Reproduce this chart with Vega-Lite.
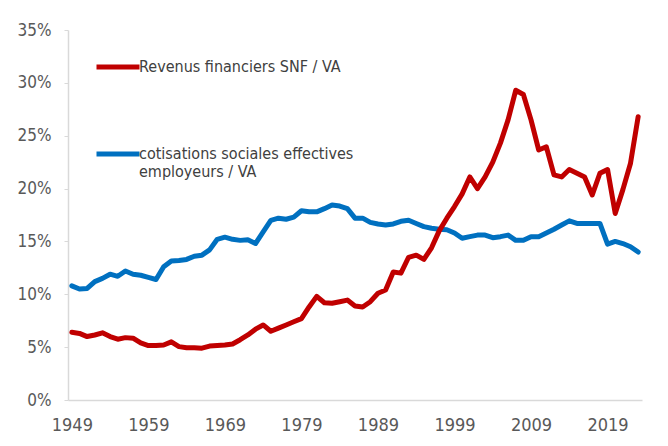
{
  "$schema": "https://vega.github.io/schema/vega-lite/v6.json",
  "width": 574,
  "height": 370,
  "autosize": "none",
  "padding": {"left": 68, "top": 30, "right": 26, "bottom": 46},
  "background": "white",
  "config": {
    "view": {"stroke": null},
    "font": "'Liberation Sans Narrow', 'DejaVu Sans Condensed', 'Liberation Sans', sans-serif"
  },
  "data": {
    "values": [
      {"year": 1949, "rev": 6.4, "cot": 10.8},
      {"year": 1950, "rev": 6.3, "cot": 10.5},
      {"year": 1951, "rev": 6.0, "cot": 10.55},
      {"year": 1952, "rev": 6.15, "cot": 11.2},
      {"year": 1953, "rev": 6.35, "cot": 11.5},
      {"year": 1954, "rev": 6.0, "cot": 11.9},
      {"year": 1955, "rev": 5.75, "cot": 11.7},
      {"year": 1956, "rev": 5.9, "cot": 12.2},
      {"year": 1957, "rev": 5.85, "cot": 11.9},
      {"year": 1958, "rev": 5.4, "cot": 11.8},
      {"year": 1959, "rev": 5.15, "cot": 11.6},
      {"year": 1960, "rev": 5.15, "cot": 11.4},
      {"year": 1961, "rev": 5.2, "cot": 12.6},
      {"year": 1962, "rev": 5.5, "cot": 13.15},
      {"year": 1963, "rev": 5.05, "cot": 13.2},
      {"year": 1964, "rev": 4.95, "cot": 13.3},
      {"year": 1965, "rev": 4.95, "cot": 13.6},
      {"year": 1966, "rev": 4.9, "cot": 13.7},
      {"year": 1967, "rev": 5.1, "cot": 14.2},
      {"year": 1968, "rev": 5.15, "cot": 15.2},
      {"year": 1969, "rev": 5.2, "cot": 15.4},
      {"year": 1970, "rev": 5.3, "cot": 15.2},
      {"year": 1971, "rev": 5.7, "cot": 15.1},
      {"year": 1972, "rev": 6.15, "cot": 15.15},
      {"year": 1973, "rev": 6.7, "cot": 14.8},
      {"year": 1974, "rev": 7.1, "cot": 15.9},
      {"year": 1975, "rev": 6.5, "cot": 17.0},
      {"year": 1976, "rev": 6.8, "cot": 17.2},
      {"year": 1977, "rev": 7.1, "cot": 17.1},
      {"year": 1978, "rev": 7.4, "cot": 17.3},
      {"year": 1979, "rev": 7.7, "cot": 17.9},
      {"year": 1980, "rev": 8.8, "cot": 17.8},
      {"year": 1981, "rev": 9.8, "cot": 17.8},
      {"year": 1982, "rev": 9.2, "cot": 18.1},
      {"year": 1983, "rev": 9.15, "cot": 18.45},
      {"year": 1984, "rev": 9.3, "cot": 18.35},
      {"year": 1985, "rev": 9.45, "cot": 18.1},
      {"year": 1986, "rev": 8.9, "cot": 17.2},
      {"year": 1987, "rev": 8.8, "cot": 17.2},
      {"year": 1988, "rev": 9.3, "cot": 16.8},
      {"year": 1989, "rev": 10.1, "cot": 16.65},
      {"year": 1990, "rev": 10.4, "cot": 16.55},
      {"year": 1991, "rev": 12.1, "cot": 16.65},
      {"year": 1992, "rev": 12.0, "cot": 16.9},
      {"year": 1993, "rev": 13.5, "cot": 17.0},
      {"year": 1994, "rev": 13.7, "cot": 16.7},
      {"year": 1995, "rev": 13.3, "cot": 16.4},
      {"year": 1996, "rev": 14.4, "cot": 16.25},
      {"year": 1997, "rev": 16.0, "cot": 16.15},
      {"year": 1998, "rev": 17.2, "cot": 16.1},
      {"year": 1999, "rev": 18.3, "cot": 15.8},
      {"year": 2000, "rev": 19.5, "cot": 15.3},
      {"year": 2001, "rev": 21.1, "cot": 15.45},
      {"year": 2002, "rev": 20.0, "cot": 15.6},
      {"year": 2003, "rev": 21.1, "cot": 15.6},
      {"year": 2004, "rev": 22.5, "cot": 15.35},
      {"year": 2005, "rev": 24.3, "cot": 15.45},
      {"year": 2006, "rev": 26.5, "cot": 15.6},
      {"year": 2007, "rev": 29.3, "cot": 15.1},
      {"year": 2008, "rev": 28.9, "cot": 15.1},
      {"year": 2009, "rev": 26.5, "cot": 15.45},
      {"year": 2010, "rev": 23.65, "cot": 15.45},
      {"year": 2011, "rev": 23.95, "cot": 15.8},
      {"year": 2012, "rev": 21.3, "cot": 16.15},
      {"year": 2013, "rev": 21.1, "cot": 16.55},
      {"year": 2014, "rev": 21.8, "cot": 16.95},
      {"year": 2015, "rev": 21.45, "cot": 16.7},
      {"year": 2016, "rev": 21.1, "cot": 16.7},
      {"year": 2017, "rev": 19.4, "cot": 16.7},
      {"year": 2018, "rev": 21.45, "cot": 16.7},
      {"year": 2019, "rev": 21.8, "cot": 14.75},
      {"year": 2020, "rev": 17.65, "cot": 15.0},
      {"year": 2021, "rev": 19.9, "cot": 14.8},
      {"year": 2022, "rev": 22.4, "cot": 14.5},
      {"year": 2023, "rev": 26.8, "cot": 14.0}
    ]
  },
  "transform": [{"fold": ["cot", "rev"], "as": ["series", "value"]}],
  "mark": {"type": "line", "strokeWidth": 5, "strokeJoin": "round", "strokeCap": "round"},
  "encoding": {
    "x": {
      "field": "year",
      "type": "quantitative",
      "scale": {"domain": [1948.5, 2023.5], "nice": false, "zero": false},
      "axis": {
        "values": [1949, 1959, 1969, 1979, 1989, 1999, 2009, 2019],
        "format": "d",
        "title": null,
        "grid": false,
        "ticks": false,
        "domainColor": "#d9d9d9",
        "domainWidth": 1.5,
        "labelColor": "#595959",
        "labelFontSize": 18,
        "labelPadding": 16,
        "labelFlush": false
      }
    },
    "y": {
      "field": "value",
      "type": "quantitative",
      "scale": {"domain": [0, 35], "nice": false},
      "axis": {
        "values": [0, 5, 10, 15, 20, 25, 30, 35],
        "labelExpr": "datum.value + '%'",
        "title": null,
        "grid": false,
        "domainColor": "#d9d9d9",
        "domainWidth": 1.5,
        "tickColor": "#d9d9d9",
        "tickSize": 4,
        "labelColor": "#595959",
        "labelFontSize": 17,
        "labelPadding": 13
      }
    },
    "color": {
      "field": "series",
      "type": "nominal",
      "scale": {"domain": ["rev", "cot"], "range": ["#C00000", "#0070C0"]},
      "legend": {
        "orient": "none",
        "legendX": 26,
        "legendY": 13,
        "title": null,
        "padding": 0,
        "symbolType": "stroke",
        "symbolSize": 1849,
        "symbolStrokeWidth": 5,
        "labelFontSize": 16,
        "labelColor": "#404040",
        "labelOffset": -3,
        "labelLimit": 400,
        "rowPadding": 53,
        "labelExpr": "datum.value == 'rev' ? 'Revenus financiers SNF / VA' : ['cotisations sociales effectives', 'employeurs / VA']"
      }
    }
  }
}
